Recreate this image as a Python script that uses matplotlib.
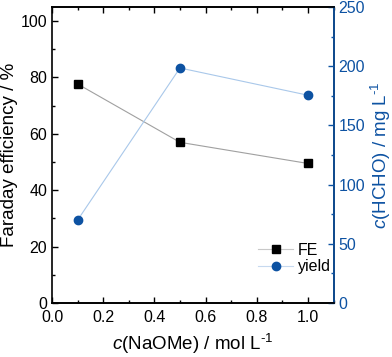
import matplotlib
matplotlib.use("Agg")
import matplotlib.pyplot as plt
from matplotlib.ticker import MultipleLocator

plt.rcParams["font.family"] = ["Liberation Sans", "DejaVu Sans"]
plt.rcParams["mathtext.fontset"] = "custom"
plt.rcParams["mathtext.rm"] = "Liberation Sans"
plt.rcParams["mathtext.it"] = "Liberation Sans:italic"

# === Data ===
conc = [0.1, 0.5, 1.0]
fe = [77.7, 57.0, 49.5]
yield_hcho = [70.0, 198.5, 175.5]

BLUE = "#0d52a2"
LIGHT_BLUE = "#a9c8ea"
GREY = "#a0a0a0"

fig = plt.figure(figsize=(3.92, 3.57), dpi=100)
ax = fig.add_axes([52 / 392, 1 - 303 / 357, (333.5 - 52) / 392, (303 - 7) / 357])
ax2 = ax.twinx()

l1, = ax.plot(conc, fe, color=GREY, lw=0.8, marker="s", ms=5.2,
              mfc="black", mec="black", label="FE")
l2, = ax2.plot(conc, yield_hcho, color=LIGHT_BLUE, lw=0.8, marker="o", ms=6,
               mfc=BLUE, mec=BLUE, label="yield")

ax.set_xlim(0, 1.1)
ax.set_ylim(0, 105)
ax2.set_ylim(0, 250)

ax.xaxis.set_major_locator(MultipleLocator(0.2))
ax.xaxis.set_minor_locator(MultipleLocator(0.1))
ax.yaxis.set_major_locator(MultipleLocator(20))
ax.yaxis.set_minor_locator(MultipleLocator(10))
ax2.yaxis.set_major_locator(MultipleLocator(50))
ax2.yaxis.set_minor_locator(MultipleLocator(25))

ax.tick_params(axis="both", which="both", direction="in", top=True, right=False,
               labelsize=11.5, width=1)
ax.tick_params(which="major", length=4.5)
ax.tick_params(which="minor", length=2.5)
ax.tick_params(axis="x", pad=5)
ax2.tick_params(axis="y", which="both", direction="in", colors=BLUE,
                labelsize=11.5, width=1)
ax2.tick_params(which="major", length=4.5)
ax2.tick_params(which="minor", length=2.5)

ax.set_xticklabels([f"{v:.1f}" for v in ax.get_xticks()])

for s in ax.spines.values():
    s.set_linewidth(1.2)
for name, s in ax2.spines.items():
    s.set_linewidth(1.2)
ax2.spines["right"].set_color(BLUE)
ax2.spines["left"].set_visible(False)

ax.set_xlabel(r"$\it{c}$(NaOMe) / mol L$^{\text{-1}}$", fontsize=13.5, labelpad=5)
ax.set_ylabel("Faraday efficiency / %", fontsize=13.5, labelpad=2)
ax2.set_ylabel(r"$\it{c}$(HCHO) / mg L$^{\text{-1}}$", fontsize=13.5, color=BLUE,
               labelpad=3)

leg = ax2.legend([l1, l2], ["FE", "yield"], loc="lower right",
                 bbox_to_anchor=(1.02, 0.07), frameon=False,
                 fontsize=11.5, handlelength=2.2, handletextpad=0.3,
                 borderaxespad=0.1, labelspacing=0.1)
leg.get_lines()[0].set_color("#c8c8c8")
leg.get_lines()[1].set_color("#c6d9ef")

fig.savefig("out.png", dpi=100)
